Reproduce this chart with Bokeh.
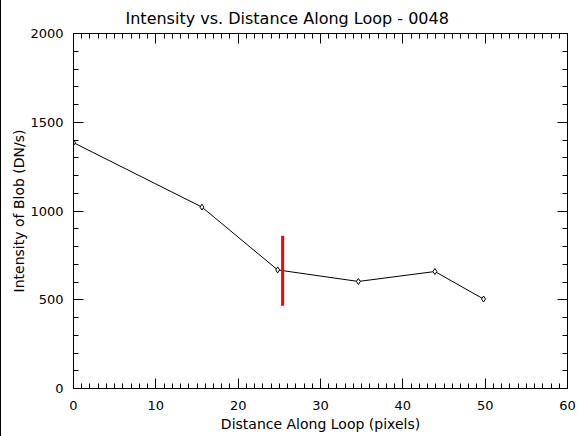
from bokeh.plotting import figure
from bokeh.models import FixedTicker, LinearAxis, Range1d, InlineStyleSheet
from bokeh.embed import file_html
from bokeh.resources import INLINE

distance = [0.0, 15.6, 24.8, 34.6, 43.9, 49.8]
intensity = [1385, 1022, 668, 603, 659, 504]
marker_x = [25.4, 25.4]
marker_y = [861, 466]
x_ticks = [0, 10, 20, 30, 40, 50, 60]
y_ticks = [0, 500, 1000, 1500, 2000]

FONT = "DejaVu Sans"

p = figure(width=576, height=436, output_backend="svg", toolbar_location=None,
           x_range=Range1d(0, 60), y_range=Range1d(0, 2000),
           min_border_left=72, min_border_right=11, min_border_top=32, min_border_bottom=48,
           title="Intensity vs. Distance Along Loop - 0048")
p.stylesheets = [InlineStyleSheet(css=":host { border-left: 1px solid black; box-sizing: content-box; }")]
p.title.align = "left"
p.title.offset = 52
p.title.text_font = FONT
p.title.text_font_style = "normal"
p.title.text_font_size = "16px"
p.title.text_color = "black"
p.title.standoff = 12

p.xgrid.visible = False
p.ygrid.visible = False
p.outline_line_color = "black"
p.outline_line_width = 1
p.background_fill_color = "white"
p.border_fill_color = "white"

xt = FixedTicker(ticks=x_ticks, minor_ticks=list(range(0, 61)))
yt = FixedTicker(ticks=y_ticks, minor_ticks=list(range(0, 2001, 100)))

def style(ax, labels=True):
    ax.major_tick_in = 10
    ax.major_tick_out = 0
    ax.minor_tick_in = 5
    ax.minor_tick_out = 0
    ax.axis_line_color = "black"
    ax.major_tick_line_color = "black"
    ax.minor_tick_line_color = "black"
    ax.major_label_text_font = FONT
    ax.major_label_text_font_size = "13px"
    ax.major_label_text_color = "black"
    ax.axis_label_text_font = FONT
    ax.axis_label_text_font_size = "14px"
    ax.axis_label_text_font_style = "normal"
    ax.axis_label_text_color = "black"
    if not labels:
        ax.major_label_text_font_size = "0px"
        ax.major_label_text_color = None

p.xaxis.ticker = xt
p.yaxis.ticker = yt
style(p.xaxis[0])
style(p.yaxis[0])
p.xaxis.axis_label = "Distance Along Loop (pixels)"
p.yaxis.axis_label = "Intensity of Blob (DN/s)"
p.xaxis.major_label_standoff = 12
p.yaxis.major_label_standoff = 10
p.xaxis.axis_label_standoff = 3
p.yaxis.axis_label_standoff = 0

top = LinearAxis(ticker=xt)
style(top, labels=False)
p.add_layout(top, "above")
right = LinearAxis(ticker=yt)
style(right, labels=False)
p.add_layout(right, "right")

p.line(distance, intensity, line_color="black", line_width=1)
p.scatter(distance, intensity, marker="diamond", size=6, fill_color="white",
          line_color="black", line_width=1)
p.line(marker_x, marker_y, line_color="red", line_width=3)

open("out.html", "w").write(file_html(p, INLINE))
